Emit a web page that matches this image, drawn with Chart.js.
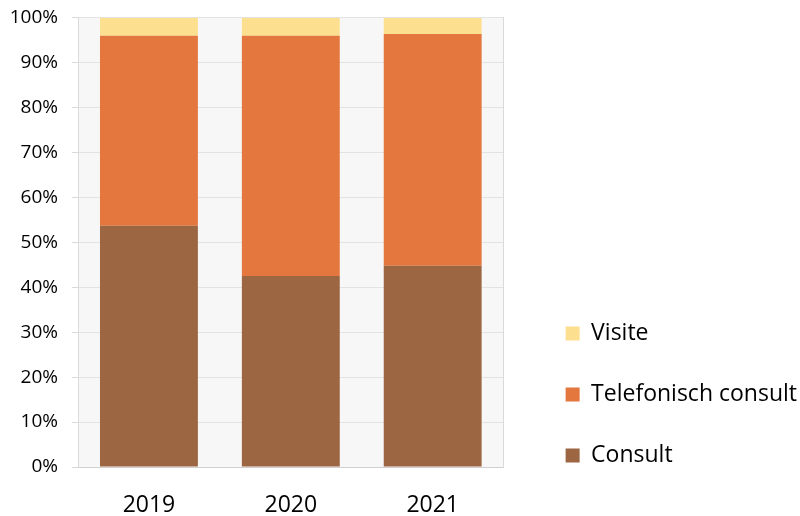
<!DOCTYPE html>
<html>
<head>
<meta charset="utf-8">
<script src="https://cdn.jsdelivr.net/npm/chart.js@4/dist/chart.umd.min.js"></script>
<style>
  html, body { margin: 0; padding: 0; background: #ffffff; }
  #c { display: block; }
</style>
</head>
<body>
<canvas id="c" width="800" height="516"></canvas>
<script>
// ---- data ----
const categories = ['2019', '2020', '2021'];
const consult = [53.7, 42.5, 44.8];
const telefonischConsult = [42.3, 53.5, 51.6];
const visite = [4.0, 4.0, 3.6];
const yTicks = [0, 10, 20, 30, 40, 50, 60, 70, 80, 90, 100];

const plotBackground = {
  id: 'plotBackground',
  beforeDraw(chart) {
    const a = chart.chartArea;
    const ctx = chart.ctx;
    ctx.save();
    ctx.fillStyle = '#f7f7f7';
    ctx.fillRect(a.left, a.top, a.right - a.left, a.bottom - a.top);
    ctx.restore();
  }
};

Chart.defaults.font.family = "'Open Sans', 'Noto Sans', sans-serif";
Chart.defaults.color = '#000000';

new Chart(document.getElementById('c'), {
  type: 'bar',
  data: {
    labels: categories,
    datasets: [
      { label: 'Consult', data: consult, backgroundColor: '#9b6641' },
      { label: 'Telefonisch consult', data: telefonischConsult, backgroundColor: '#e3773d' },
      { label: 'Visite', data: visite, backgroundColor: '#fde08f' }
    ]
  },
  options: {
    responsive: false,
    animation: false,
    layout: { padding: { top: 0, right: -7, bottom: 11, left: 0 } },
    datasets: { bar: { barPercentage: 0.69, categoryPercentage: 1.0, borderWidth: 0 } },
    scales: {
      x: {
        stacked: true,
        grid: { display: false, drawTicks: false },
        border: { display: true, color: '#d0d0d0', width: 1 },
        ticks: { font: { size: 23 }, mirror: true, padding: -52, color: '#000' },
        afterFit(s) { s.height = 38; }
      },
      y: {
        stacked: true,
        min: 0,
        max: 100,
        afterBuildTicks(s) { s.ticks = yTicks.map(v => ({ value: v })); },
        ticks: { font: { size: 19, lineHeight: 0.4 }, padding: 14, color: '#000', callback: v => v + '%' },
        grid: { color: '#e3e3e3', tickColor: '#d9d9d9', tickLength: 6, lineWidth: 1 },
        border: { display: true, color: '#dadada', width: 1 },
        afterFit(s) { s.width = 78; }
      },
      y2: {
        position: 'right',
        min: 0,
        max: 100,
        ticks: { display: false },
        grid: { display: false, drawTicks: false },
        border: { display: true, color: '#dadada', width: 1 },
        afterFit(s) { s.width = 24; }
      }
    },
    plugins: {
      legend: {
        position: 'right',
        align: 'end',
        reverse: true,
        maxWidth: 320,
        labels: {
          boxWidth: 14,
          boxHeight: 14,
          padding: 38,
          font: { size: 23 },
          color: '#000'
        }
      },
      tooltip: { enabled: false }
    }
  },
  plugins: [plotBackground]
});
</script>
</body>
</html>
